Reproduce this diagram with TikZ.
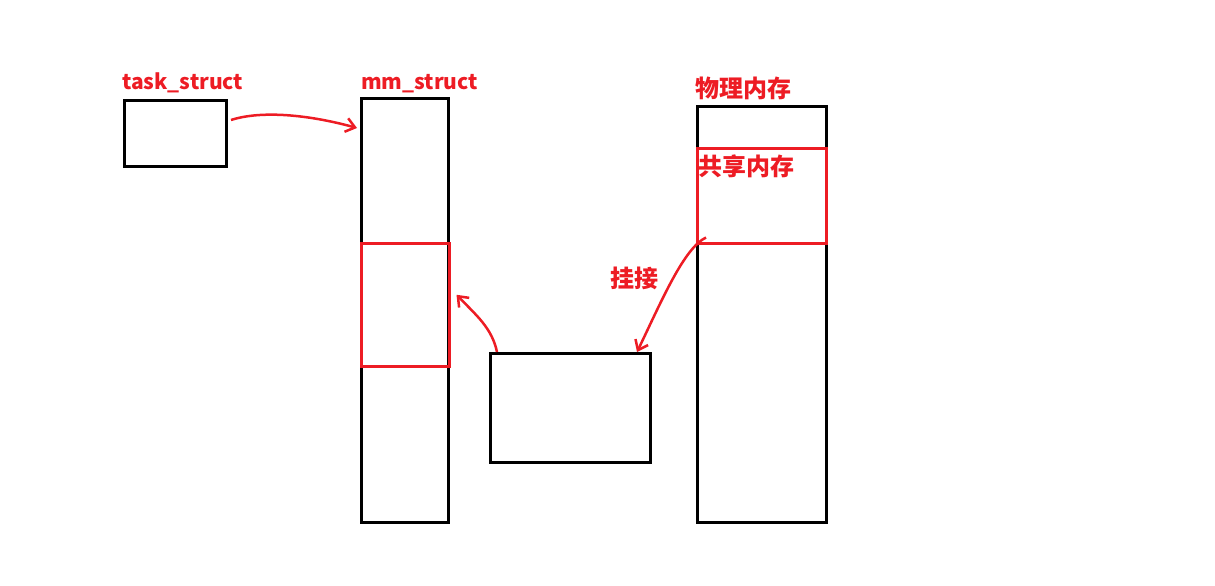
\documentclass[tikz,border=0pt]{standalone}
\usepackage{fontspec}
\newfontfamily\cjk{Noto Sans CJK SC}
\usepackage{tikz}
\usetikzlibrary{arrows.meta,calc}
\definecolor{paintred}{RGB}{237,28,36}

\begin{document}
\begin{tikzpicture}[x=1pt,y=-1pt,
        box/.style={draw=black, line width=3pt, inner sep=0pt, anchor=north west},
        redbox/.style={draw=paintred, line width=2.5pt, inner sep=0pt, anchor=north west},
        lbl/.style={text=paintred, font=\cjk\bfseries\fontsize{21}{24}\selectfont, inner sep=0pt},
        cjklbl/.style={lbl, font=\cjk\bfseries\fontsize{24}{28}\selectfont},
        link/.style={draw=paintred, line width=2.5pt, -{Straight Barb[length=9pt,width=14pt]}}]
    \useasboundingbox (0,0) rectangle (1215,586);
    % boxes
    \node[box, minimum width=102pt, minimum height=66pt] (task) at (123,99) {};
    \node[box, minimum width=87pt, minimum height=424pt] (mm) at (360,97) {};
    \node[box, minimum width=160pt, minimum height=109pt] (shm) at (489,352) {};
    \node[box, minimum width=129pt, minimum height=416pt] (phys) at (696,105) {};
    \node[redbox, minimum width=88pt, minimum height=123pt] (mmshare) at (360,242) {};
    \node[redbox, minimum width=129pt, minimum height=95pt] (physshare) at (696,147) {};
    % labels
    \node[lbl, anchor=base west] (tasklabel) at (122,89) {task\_struct};
    \node[lbl, anchor=base west] (mmlabel) at (361,89) {mm\_struct};
    \node[cjklbl, anchor=base west] (physlabel) at (695,97) {物理内存};
    \node[cjklbl, anchor=base west] (sharelabel) at (698,175) {共享内存};
    \node[cjklbl, anchor=base west] (attachlabel) at (610,287) {挂接};
    % arrows
    \draw[link] ($(task.north east)+(3,21)$) .. controls (262,110) and (310,115) .. ($(mm.north west)+(-3,31)$);
    \draw[link] ($(shm.north west)+(8,0)$) .. controls (492,328) and (476,315) .. ($(mmshare.east)+(6,-10)$);
    \draw[link] ($(physshare.south west)+(10,-7)$) .. controls (684,248) and (662,300) .. ($(shm.north east)+(-15,0)$);
\end{tikzpicture}
\end{document}
